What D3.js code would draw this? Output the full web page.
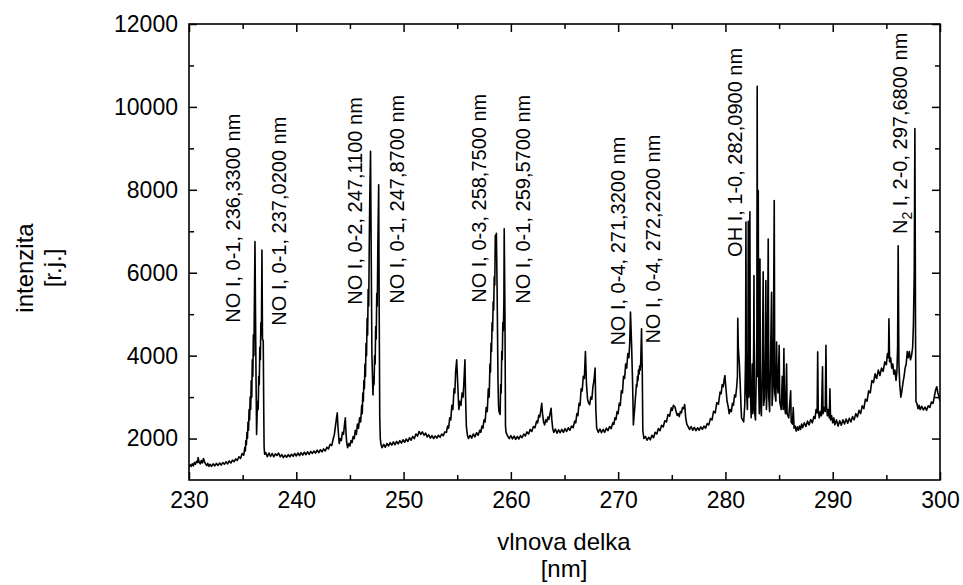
<!DOCTYPE html>
<html>
<head>
<meta charset="utf-8">
<script src="https://cdn.jsdelivr.net/npm/d3@7"></script>
<style>
body { margin: 0; background: #fff; }
svg { display: block; font-family: "Liberation Sans", Arial, sans-serif; }
</style>
</head>
<body>
<script>
// emission spectrum: [wavelength nm, intensity]
var spectrum = [
    [230.0,1300],[230.1,1370],[230.2,1330],[230.3,1390],[230.4,1340],[230.5,1420],[230.6,1380],[230.7,1450],
    [230.8,1420],[230.85,1540],[230.95,1430],[231.05,1390],[231.15,1470],[231.25,1410],[231.35,1520],[231.45,1440],
    [231.55,1390],[231.65,1350],[231.75,1400],[231.85,1330],[231.95,1380],[232.1,1330],[232.25,1390],[232.4,1340],
    [232.55,1400],[232.7,1350],[232.85,1410],[233.0,1360],[233.15,1420],[233.3,1380],[233.45,1440],[233.6,1390],
    [233.75,1460],[233.9,1410],[234.05,1480],[234.2,1440],[234.35,1510],[234.5,1470],[234.65,1560],[234.8,1520],
    [234.95,1640],[235.1,1600],[235.2,1780],[235.25,1700],[235.3,1950],[235.35,1850],[235.4,2150],[235.45,2000],
    [235.5,2400],[235.55,2200],[235.6,2700],[235.65,2450],[235.7,3000],[235.75,2700],[235.8,3400],[235.85,3000],
    [235.9,3900],[235.95,3500],[236.0,4500],[236.05,4000],[236.1,5400],[236.15,6750],[236.2,5000],[236.25,3400],
    [236.3,2100],[236.35,2600],[236.4,2900],[236.45,2700],[236.5,3500],[236.55,3300],[236.6,4200],[236.65,3900],
    [236.7,4800],[236.75,4500],[236.8,6550],[236.85,4400],[236.92,4350],[236.97,2600],[237.0,1800],[237.05,1620],
    [237.15,1660],[237.3,1560],[237.45,1650],[237.6,1570],[237.75,1640],[237.9,1560],[238.05,1630],[238.2,1590],
    [238.35,1650],[238.5,1560],[238.65,1610],[238.8,1540],[238.95,1600],[239.1,1550],[239.25,1610],[239.4,1560],
    [239.55,1620],[239.7,1570],[239.85,1640],[240.0,1580],[240.15,1650],[240.3,1590],[240.45,1660],[240.6,1600],
    [240.75,1670],[240.9,1610],[241.05,1680],[241.2,1620],[241.35,1690],[241.5,1640],[241.65,1700],[241.8,1650],
    [241.95,1720],[242.1,1660],[242.25,1730],[242.4,1680],[242.55,1750],[242.7,1700],[242.85,1790],[243.0,1750],
    [243.15,1860],[243.3,1830],[243.45,2000],[243.55,2100],[243.65,2300],[243.75,2500],[243.82,2620],[243.88,2300],
    [243.95,2050],[244.0,1880],[244.1,2000],[244.2,1950],[244.3,2150],[244.4,2100],[244.5,2350],[244.57,2500],
    [244.63,2150],[244.7,1900],[244.78,1780],[244.9,1880],[245.0,1820],[245.1,1950],[245.2,1900],[245.3,2050],
    [245.4,2000],[245.5,2200],[245.6,2100],[245.7,2350],[245.8,2250],[245.9,2500],[246.0,2400],[246.1,2800],
    [246.15,2600],[246.2,3100],[246.25,2900],[246.3,3400],[246.35,3200],[246.4,3800],[246.45,3500],[246.5,4300],
    [246.55,4000],[246.6,4900],[246.65,4500],[246.7,5600],[246.75,5200],[246.8,6600],[246.85,7800],[246.92,8930],
    [246.97,7000],[247.05,4000],[247.15,3050],[247.2,3500],[247.25,3300],[247.3,4000],[247.35,3800],[247.4,4700],
    [247.45,4400],[247.5,5500],[247.55,5200],[247.6,6600],[247.68,8120],[247.73,5000],[247.78,2500],[247.83,2000],
    [247.9,1850],[248.0,1780],[248.15,1860],[248.3,1790],[248.45,1880],[248.6,1820],[248.75,1900],[248.9,1840],
    [249.05,1920],[249.2,1850],[249.35,1930],[249.5,1870],[249.65,1950],[249.8,1890],[249.95,1970],[250.1,1910],
    [250.25,1990],[250.4,1930],[250.55,2020],[250.7,1960],[250.85,2050],[251.0,2000],[251.15,2110],[251.3,2060],
    [251.45,2170],[251.6,2100],[251.75,2160],[251.9,2080],[252.05,2130],[252.2,2040],[252.35,2090],[252.5,2010],
    [252.65,2070],[252.8,2000],[252.95,2060],[253.1,2010],[253.25,2080],[253.4,2030],[253.55,2110],[253.7,2070],
    [253.85,2160],[254.0,2150],[254.1,2300],[254.2,2250],[254.3,2500],[254.4,2450],[254.5,2800],[254.6,2700],
    [254.7,3200],[254.78,3100],[254.85,3600],[254.95,3900],[255.05,3300],[255.15,2700],[255.25,2900],[255.35,2800],
    [255.45,3100],[255.55,3000],[255.65,3500],[255.72,3900],[255.78,3000],[255.85,2300],[255.95,2080],[256.05,2000],
    [256.2,2080],[256.35,2010],[256.5,2110],[256.65,2040],[256.8,2140],[256.95,2080],[257.1,2200],[257.2,2150],
    [257.3,2300],[257.4,2250],[257.5,2450],[257.6,2400],[257.7,2750],[257.8,2650],[257.9,3200],[257.98,3000],
    [258.05,3800],[258.1,3600],[258.15,4300],[258.2,4100],[258.25,4800],[258.3,4600],[258.35,5300],[258.4,5100],
    [258.45,5900],[258.5,5700],[258.55,6900],[258.6,6500],[258.65,6950],[258.72,5600],[258.8,3400],[258.85,2800],
    [258.9,2650],[259.0,2580],[259.05,3300],[259.1,3100],[259.15,4100],[259.2,3900],[259.25,4800],[259.3,4600],
    [259.35,5300],[259.38,7060],[259.45,5000],[259.5,2300],[259.55,2150],[259.7,2060],[259.85,2000],[260.0,2070],
    [260.15,1990],[260.3,2060],[260.45,1980],[260.6,2050],[260.75,1990],[260.9,2070],[261.05,2020],[261.2,2110],
    [261.35,2060],[261.5,2160],[261.65,2110],[261.8,2220],[261.95,2170],[262.1,2290],[262.25,2260],[262.4,2420],
    [262.5,2380],[262.6,2560],[262.7,2520],[262.8,2700],[262.88,2850],[262.95,2600],[263.05,2400],[263.15,2330],
    [263.25,2450],[263.35,2400],[263.45,2520],[263.55,2460],[263.65,2600],[263.75,2730],[263.82,2450],[263.9,2250],
    [264.0,2150],[264.15,2230],[264.3,2130],[264.45,2210],[264.6,2140],[264.75,2220],[264.9,2150],[265.05,2240],
    [265.2,2170],[265.35,2260],[265.5,2200],[265.65,2300],[265.8,2260],[265.95,2420],[266.05,2380],[266.15,2600],
    [266.25,2550],[266.35,2850],[266.45,2800],[266.55,3200],[266.65,3150],[266.75,3500],[266.85,3450],[266.95,4100],
    [267.05,3300],[267.15,2950],[267.25,2850],[267.35,2820],[267.45,3000],[267.55,2950],[267.65,3250],[267.75,3400],
    [267.85,3700],[267.92,2700],[268.0,2250],[268.15,2150],[268.3,2230],[268.45,2140],[268.6,2220],[268.75,2150],
    [268.9,2250],[269.05,2190],[269.2,2290],[269.35,2240],[269.5,2380],[269.6,2340],[269.7,2500],[269.8,2460],
    [269.9,2650],[270.0,2600],[270.1,2850],[270.2,2800],[270.3,3150],[270.4,3100],[270.5,3500],[270.6,3450],
    [270.7,3800],[270.8,3700],[270.9,4050],[271.0,3950],[271.08,4300],[271.15,5050],[271.25,4300],[271.35,3300],
    [271.42,2330],[271.5,2600],[271.55,2750],[271.6,2950],[271.65,3100],[271.7,3300],[271.75,3250],[271.8,3500],
    [271.85,3400],[271.9,3650],[271.95,3550],[272.0,3750],[272.05,3650],[272.1,3800],[272.18,4650],[272.25,3600],
    [272.3,2200],[272.4,2000],[272.55,2050],[272.7,1960],[272.85,2030],[273.0,1970],[273.15,2080],[273.3,2020],
    [273.45,2150],[273.6,2110],[273.75,2240],[273.9,2190],[274.05,2320],[274.2,2280],[274.35,2430],[274.5,2400],
    [274.65,2580],[274.8,2540],[274.95,2740],[275.05,2680],[275.15,2800],[275.3,2760],[275.4,2650],[275.5,2560],
    [275.6,2600],[275.7,2530],[275.8,2650],[275.9,2620],[276.0,2750],[276.1,2720],[276.2,2820],[276.3,2500],
    [276.4,2350],[276.5,2300],[276.65,2220],[276.8,2290],[276.95,2200],[277.1,2270],[277.25,2190],[277.4,2260],
    [277.55,2200],[277.7,2280],[277.85,2220],[278.0,2300],[278.15,2250],[278.3,2360],[278.45,2330],[278.6,2480],
    [278.75,2450],[278.9,2660],[279.05,2620],[279.2,2870],[279.35,2830],[279.5,3120],[279.6,3080],[279.7,3300],
    [279.8,3250],[279.9,3450],[279.95,3520],[280.05,3200],[280.15,2900],[280.25,2780],[280.35,2600],[280.45,2700],
    [280.55,2650],[280.65,2850],[280.75,2800],[280.85,3050],[280.95,3000],[281.05,3250],[281.12,3500],[281.15,4900],
    [281.2,4200],[281.25,4000],[281.3,3800],[281.35,3500],[281.45,2800],[281.5,2500],[281.6,2450],[281.7,2400],
    [281.8,2800],[281.88,4000],[281.91,7220],[281.95,3200],[282.05,2700],[282.1,4200],[282.13,7240],[282.18,3000],
    [282.23,4500],[282.28,7470],[282.32,3200],[282.4,2500],[282.5,3800],[282.55,2600],[282.63,4200],[282.66,5930],
    [282.7,2700],[282.8,2450],[282.88,3600],[282.93,4600],[282.96,10500],[283.0,3500],[283.04,5000],[283.06,7980],
    [283.1,3300],[283.16,2600],[283.22,6330],[283.26,3000],[283.35,2550],[283.45,3900],[283.52,6020],[283.56,2800],
    [283.65,3000],[283.72,4200],[283.77,5810],[283.82,2700],[283.9,3300],[283.99,6815],[284.04,3000],[284.12,2650],
    [284.2,3800],[284.3,5530],[284.35,2800],[284.45,3300],[284.55,7740],[284.6,3100],[284.7,2900],[284.77,4330],
    [284.82,3400],[284.9,3100],[285.01,4250],[285.06,2900],[285.2,2700],[285.3,3500],[285.38,2700],[285.45,4170],
    [285.5,2800],[285.6,2600],[285.7,3800],[285.75,2600],[285.9,2500],[286.08,3150],[286.13,2400],[286.25,2350],
    [286.32,2750],[286.4,2250],[286.5,2300],[286.6,2180],[286.7,2280],[286.8,2200],[286.9,2300],[287.0,2220],
    [287.1,2350],[287.2,2260],[287.35,2380],[287.5,2290],[287.65,2420],[287.8,2330],[287.95,2460],[288.1,2380],
    [288.25,2530],[288.35,2480],[288.45,2700],[288.55,2620],[288.6,4090],[288.65,2700],[288.75,2500],[288.85,2650],
    [288.95,2550],[289.05,3730],[289.1,2600],[289.2,2750],[289.3,2650],[289.37,4250],[289.42,2800],[289.5,2550],
    [289.6,2700],[289.68,2500],[289.74,3200],[289.8,2450],[289.9,2550],[290.0,2380],[290.1,2500],[290.2,2330],
    [290.35,2450],[290.5,2300],[290.65,2430],[290.8,2320],[290.95,2450],[291.1,2350],[291.25,2470],[291.4,2370],
    [291.55,2490],[291.7,2400],[291.85,2530],[292.0,2450],[292.15,2600],[292.3,2520],[292.45,2680],[292.6,2600],
    [292.75,2790],[292.9,2720],[293.05,2950],[293.2,2900],[293.35,3150],[293.5,3100],[293.65,3400],[293.8,3350],
    [293.95,3560],[294.1,3450],[294.25,3650],[294.4,3520],[294.55,3700],[294.7,3620],[294.85,3850],[295.0,3780],
    [295.1,4050],[295.2,3950],[295.24,4890],[295.3,3850],[295.4,3950],[295.5,3700],[295.6,3800],[295.7,3550],
    [295.8,3650],[295.9,3400],[295.98,3600],[296.05,4200],[296.1,6650],[296.17,3800],[296.25,3300],[296.35,3000],
    [296.45,3150],[296.55,3350],[296.65,3500],[296.75,3700],[296.85,3800],[296.95,4100],[297.05,3950],[297.15,4100],
    [297.25,3900],[297.35,4000],[297.45,4200],[297.52,4730],[297.6,6000],[297.66,9480],[297.72,4500],[297.76,2890],
    [297.85,2850],[297.95,2720],[298.05,2800],[298.15,2700],[298.3,2780],[298.45,2690],[298.6,2760],[298.75,2680],
    [298.9,2790],[299.05,2750],[299.2,2880],[299.35,2850],[299.5,3050],[299.6,3180],[299.7,3250],[299.8,3100],
    [299.9,3020],[300.0,2900]
];

var xMajor = [230, 240, 250, 260, 270, 280, 290, 300];
var xMinor = [235, 245, 255, 265, 275, 285, 295];
var yMajor = [2000, 4000, 6000, 8000, 10000, 12000];
var yMinor = [3000, 5000, 7000, 9000, 11000];

// line identifications, anchored where each label starts (nm, intensity)
var peakText = [
    "NO I, 0-1, 236,3300 nm", "NO I, 0-1, 237,0200 nm", "NO I, 0-2, 247,1100 nm",
    "NO I, 0-1, 247,8700 nm", "NO I, 0-3, 258,7500 nm", "NO I, 0-1, 259,5700 nm",
    "NO I, 0-4, 271,3200 nm", "NO I, 0-4, 272,2200 nm", "OH I, 1-0, 282,0900 nm",
    " I, 2-0, 297,6800 nm"
];
var peakNm = [234.75, 239.04, 246.12, 250.04, 257.68, 261.78, 270.63, 273.9, 281.54, 296.92];
var peakLevel = [4795, 4723, 5228, 5252, 5276, 5252, 4242, 4290, 6382, 6935];

var width = 963, height = 585;

var svg = d3.select('body').append('svg')
    .attr('width', width)
    .attr('height', height);

svg.append('rect').attr('width', width).attr('height', height).attr('fill', '#fff');

var x = d3.scaleLinear().domain([230, 300]).range([189, 940]);
var y = d3.scaleLinear().domain([1000, 12000]).range([480, 24]);

svg.append('clipPath').attr('id', 'plotClip')
    .append('rect')
    .attr('x', 189).attr('y', 24)
    .attr('width', 940 - 189).attr('height', 480 - 24);

var line = d3.line()
    .x(function(d) { return x(d[0]); })
    .y(function(d) { return y(d[1]); });

svg.append('path')
    .datum(spectrum)
    .attr('clip-path', 'url(#plotClip)')
    .attr('d', line)
    .attr('fill', 'none')
    .attr('stroke', '#000')
    .attr('stroke-width', 1.6)
    .attr('stroke-linejoin', 'round');

function styleAxis(g) {
    g.select('.domain').remove();
    g.selectAll('line').attr('stroke', '#000').attr('stroke-width', 1.5);
    g.selectAll('text').attr('fill', '#000').attr('font-size', 23)
        .attr('font-family', '"Liberation Sans", Arial, sans-serif');
}

// ticks all point into the plot
svg.append('g').attr('transform', 'translate(0,480)')
    .call(d3.axisBottom(x).tickValues(xMajor).tickFormat(d3.format('d')).tickSize(-8).tickPadding(12))
    .call(styleAxis);
svg.append('g').attr('transform', 'translate(0,480)')
    .call(d3.axisBottom(x).tickValues(xMinor).tickFormat('').tickSize(-5))
    .call(styleAxis);
svg.append('g').attr('transform', 'translate(0,24)')
    .call(d3.axisTop(x).tickValues(xMajor).tickFormat('').tickSize(-8))
    .call(styleAxis);
svg.append('g').attr('transform', 'translate(0,24)')
    .call(d3.axisTop(x).tickValues(xMinor).tickFormat('').tickSize(-5))
    .call(styleAxis);

svg.append('g').attr('transform', 'translate(189,0)')
    .call(d3.axisLeft(y).tickValues(yMajor).tickFormat(d3.format('d')).tickSize(-8).tickPadding(11))
    .call(styleAxis);
svg.append('g').attr('transform', 'translate(189,0)')
    .call(d3.axisLeft(y).tickValues(yMinor).tickFormat('').tickSize(-5))
    .call(styleAxis);
svg.append('g').attr('transform', 'translate(940,0)')
    .call(d3.axisRight(y).tickValues(yMajor).tickFormat('').tickSize(-8))
    .call(styleAxis);
svg.append('g').attr('transform', 'translate(940,0)')
    .call(d3.axisRight(y).tickValues(yMinor).tickFormat('').tickSize(-5))
    .call(styleAxis);

svg.append('rect')
    .attr('x', 189).attr('y', 24)
    .attr('width', 940 - 189).attr('height', 480 - 24)
    .attr('fill', 'none')
    .attr('stroke', '#000')
    .attr('stroke-width', 1.6);

// axis titles, two lines each
var xTitle = svg.append('text')
    .attr('text-anchor', 'middle')
    .attr('font-size', 24)
    .attr('fill', '#000');
xTitle.append('tspan').attr('x', 564).attr('y', 550).text('vlnova delka');
xTitle.append('tspan').attr('x', 564).attr('y', 577).text('[nm]');

var yTitle = svg.append('text')
    .attr('text-anchor', 'middle')
    .attr('font-size', 24)
    .attr('fill', '#000')
    .attr('transform', 'translate(0,268) rotate(-90)');
yTitle.append('tspan').attr('x', 0).attr('y', 33).text('intenzita');
yTitle.append('tspan').attr('x', 0).attr('y', 61).text('[r.j.]');

// peak labels, written bottom to top
peakText.forEach(function(t, i) {
    var lbl = svg.append('text')
        .attr('font-size', 20)
        .attr('fill', '#000')
        .attr('transform', 'translate(' + x(peakNm[i]) + ',' + y(peakLevel[i]) + ') rotate(-90)');
    if (i == peakText.length - 1) {
        lbl.append('tspan').text('N');
        lbl.append('tspan').attr('font-size', 14).attr('dy', 5).text('2');
        lbl.append('tspan').attr('dy', -5).text(t);
    } else {
        lbl.text(t);
    }
});
</script>
</body>
</html>
